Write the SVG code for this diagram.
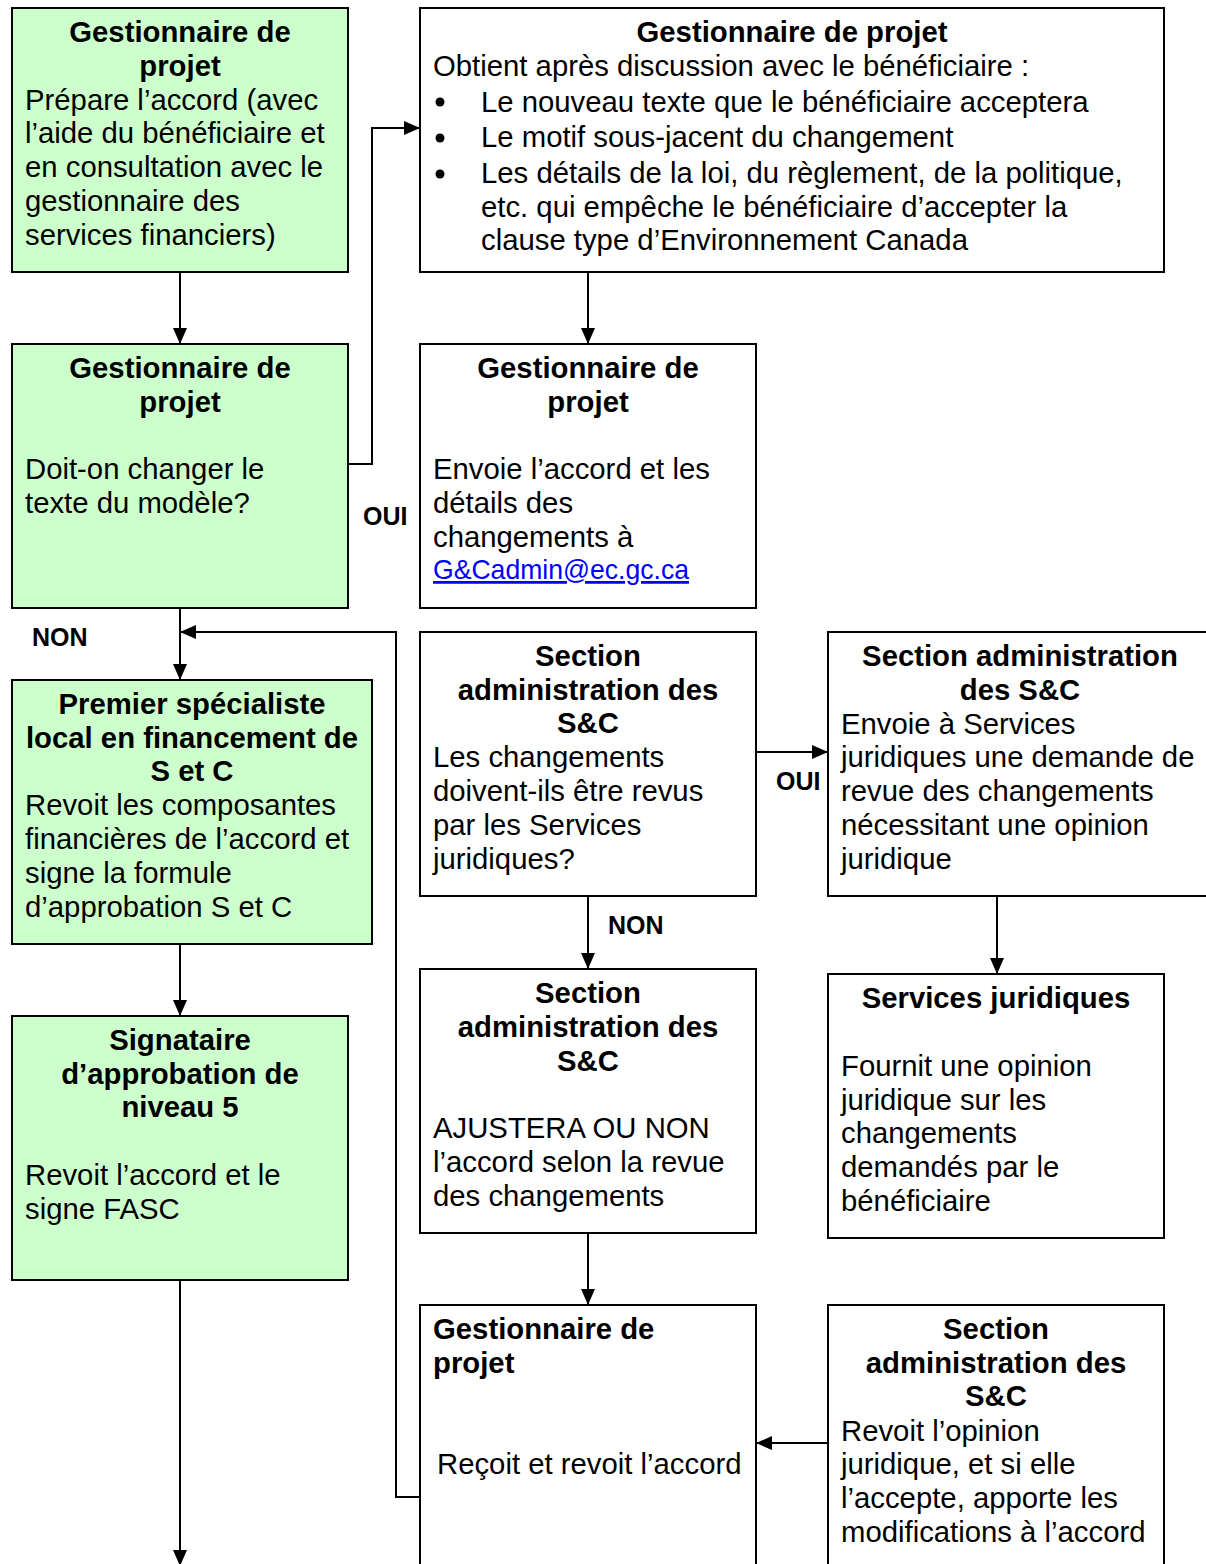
<svg xmlns="http://www.w3.org/2000/svg" width="1206" height="1564" viewBox="0 0 1206 1564">
<defs>
<marker id="ah" markerUnits="userSpaceOnUse" markerWidth="16" markerHeight="14" refX="16" refY="7" orient="auto">
<path d="M0,0 L16,7 L0,14 z" fill="#000"/>
</marker>
<style>
.g{fill:#CCFFCC;stroke:#000;stroke-width:2}
.w{fill:#fff;stroke:#000;stroke-width:2}
text{font-family:"Liberation Sans",Arial,sans-serif;font-size:29.3px;fill:#000}
.b{font-weight:bold}
.c{text-anchor:middle}
.lbl{font-weight:bold;font-size:25px}
.ln{fill:none;stroke:#000;stroke-width:2;marker-end:url(#ah)}
.link{fill:#0000FF;text-decoration:underline;font-size:27.5px}
</style>
</defs>
<rect width="1206" height="1564" fill="#fff"/>

<g id="n1">
<rect class="g" x="12" y="8" width="336" height="264"/>
<text class="b c" x="180" y="42">Gestionnaire de</text>
<text class="b c" x="180" y="76">projet</text>
<text x="25" y="110">Prépare l’accord (avec</text>
<text x="25" y="143">l’aide du bénéficiaire et</text>
<text x="25" y="177">en consultation avec le</text>
<text x="25" y="211">gestionnaire des</text>
<text x="25" y="245">services financiers)</text>
</g>

<g id="n2">
<rect class="w" x="420" y="8" width="744" height="264"/>
<text class="b c" x="792" y="42">Gestionnaire de projet</text>
<text x="433" y="76">Obtient après discussion avec le bénéficiaire :</text>
<circle cx="440" cy="102" r="4.5"/>
<circle cx="440" cy="138" r="4.5"/>
<circle cx="440" cy="174" r="4.5"/>
<text x="481" y="112">Le nouveau texte que le bénéficiaire acceptera</text>
<text x="481" y="147">Le motif sous-jacent du changement</text>
<text x="481" y="183">Les détails de la loi, du règlement, de la politique,</text>
<text x="481" y="217">etc. qui empêche le bénéficiaire d’accepter la</text>
<text x="481" y="250">clause type d’Environnement Canada</text>
</g>

<g id="n3">
<rect class="g" x="12" y="344" width="336" height="264"/>
<text class="b c" x="180" y="378">Gestionnaire de</text>
<text class="b c" x="180" y="412">projet</text>
<text x="25" y="479">Doit-on changer le</text>
<text x="25" y="513">texte du modèle?</text>
</g>

<g id="n4">
<rect class="w" x="420" y="344" width="336" height="264"/>
<text class="b c" x="588" y="378">Gestionnaire de</text>
<text class="b c" x="588" y="412">projet</text>
<text x="433" y="479">Envoie l’accord et les</text>
<text x="433" y="513">détails des</text>
<text x="433" y="547">changements à</text>
<text class="link" x="433" y="579" textLength="256" lengthAdjust="spacingAndGlyphs">G&amp;Cadmin@ec.gc.ca</text>
</g>

<g id="n5">
<rect class="g" x="12" y="680" width="360" height="264"/>
<text class="b c" x="192" y="714">Premier spécialiste</text>
<text class="b c" x="192" y="748">local en financement de</text>
<text class="b c" x="192" y="781">S et C</text>
<text x="25" y="815">Revoit les composantes</text>
<text x="25" y="849">financières de l’accord et</text>
<text x="25" y="883">signe la formule</text>
<text x="25" y="917">d’approbation S et C</text>
</g>

<g id="n6">
<rect class="w" x="420" y="632" width="336" height="264"/>
<text class="b c" x="588" y="666">Section</text>
<text class="b c" x="588" y="700">administration des</text>
<text class="b c" x="588" y="733">S&amp;C</text>
<text x="433" y="767">Les changements</text>
<text x="433" y="801">doivent-ils être revus</text>
<text x="433" y="835">par les Services</text>
<text x="433" y="869">juridiques?</text>
</g>

<g id="n7">
<rect class="w" x="828" y="632" width="390" height="264"/>
<text class="b c" x="1020" y="666">Section administration</text>
<text class="b c" x="1020" y="700">des S&amp;C</text>
<text x="841" y="734">Envoie à Services</text>
<text x="841" y="767">juridiques une demande de</text>
<text x="841" y="801">revue des changements</text>
<text x="841" y="835">nécessitant une opinion</text>
<text x="841" y="869">juridique</text>
</g>

<g id="n8">
<rect class="g" x="12" y="1016" width="336" height="264"/>
<text class="b c" x="180" y="1050">Signataire</text>
<text class="b c" x="180" y="1084">d’approbation de</text>
<text class="b c" x="180" y="1117">niveau 5</text>
<text x="25" y="1185">Revoit l’accord et le</text>
<text x="25" y="1219">signe FASC</text>
</g>

<g id="n9">
<rect class="w" x="420" y="969" width="336" height="264"/>
<text class="b c" x="588" y="1003">Section</text>
<text class="b c" x="588" y="1037">administration des</text>
<text class="b c" x="588" y="1071">S&amp;C</text>
<text x="433" y="1138">AJUSTERA OU NON</text>
<text x="433" y="1172">l’accord selon la revue</text>
<text x="433" y="1206">des changements</text>
</g>

<g id="n10">
<rect class="w" x="828" y="974" width="336" height="264"/>
<text class="b c" x="996" y="1008">Services juridiques</text>
<text x="841" y="1076">Fournit une opinion</text>
<text x="841" y="1110">juridique sur les</text>
<text x="841" y="1143">changements</text>
<text x="841" y="1177">demandés par le</text>
<text x="841" y="1211">bénéficiaire</text>
</g>

<g id="n11">
<rect class="w" x="420" y="1305" width="336" height="280"/>
<text class="b" x="433" y="1339">Gestionnaire de</text>
<text class="b" x="433" y="1373">projet</text>
<text x="437" y="1474">Reçoit et revoit l’accord</text>
</g>

<g id="n12">
<rect class="w" x="828" y="1305" width="336" height="280"/>
<text class="b c" x="996" y="1339">Section</text>
<text class="b c" x="996" y="1373">administration des</text>
<text class="b c" x="996" y="1406">S&amp;C</text>
<text x="841" y="1441">Revoit l’opinion</text>
<text x="841" y="1474">juridique, et si elle</text>
<text x="841" y="1508">l’accepte, apporte les</text>
<text x="841" y="1542">modifications à l’accord</text>
</g>

<g id="connectors">
<path class="ln" d="M180,272 V344"/>
<path class="ln" d="M348,464 H372 V128 H420"/>
<path class="ln" d="M588,272 V344"/>
<path class="ln" d="M180,608 V680"/>
<path class="ln" d="M420,1497 H396 V632 H180"/>
<path class="ln" d="M756,752 H828"/>
<path class="ln" d="M588,896 V969"/>
<path class="ln" d="M997,896 V974"/>
<path class="ln" d="M180,944 V1016"/>
<path class="ln" d="M588,1233 V1305"/>
<path class="ln" d="M828,1443 H756"/>
<path class="ln" d="M180,1280 V1566"/>
<text class="lbl" x="363" y="525">OUI</text>
<text class="lbl" x="32" y="646">NON</text>
<text class="lbl" x="776" y="790">OUI</text>
<text class="lbl" x="608" y="934">NON</text>
</g>
</svg>
